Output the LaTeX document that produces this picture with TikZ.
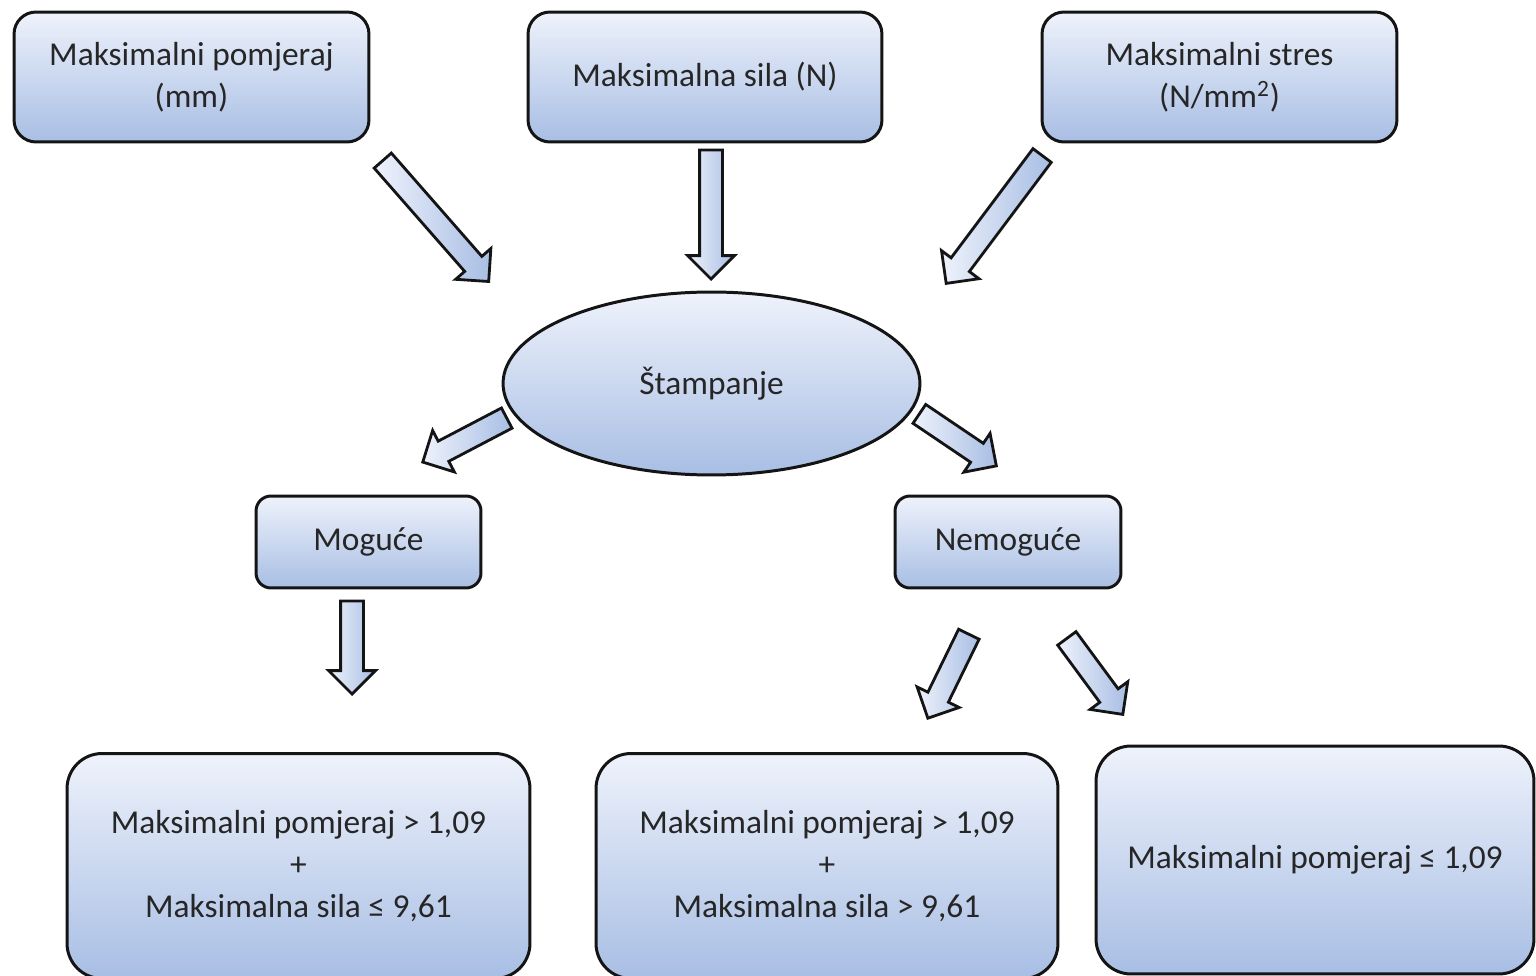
\documentclass[tikz,border=0pt]{standalone}
\usepackage{fontspec}
\setmainfont{Carlito}
\usetikzlibrary{shapes.geometric,shapes.arrows,calc}

\definecolor{fillLight}{RGB}{238,242,251}
\definecolor{fillDark}{RGB}{168,190,228}
\definecolor{lineDark}{RGB}{20,20,20}

\tikzset{
  box/.style={draw=lineDark, line width=1.7pt, rounded corners=0.44cm,
    top color=fillLight, bottom color=fillDark, align=center,
    font=\fontsize{19}{24}\selectfont, text=black!85},
  bigbox/.style={box, rounded corners=0.7cm},
  smallbox/.style={box, rounded corners=0.3cm},
  oval/.style={box, ellipse},
  barrow/.style={single arrow, draw=lineDark, line width=1.6pt,
    inner xsep=0pt, inner ysep=0.2cm, text height=0pt, text depth=0pt,
    minimum width=0.88cm, single arrow head extend=0.24cm,
    single arrow tip angle=90, left color=fillLight, right color=fillDark}
}

% block arrow from tail coordinate to tip coordinate
\newcommand{\blockarrow}[3]{%
  \path let \p1=($(#3)-(#2)$), \n1={atan2(\y1,\x1)}, \n2={veclen(\x1,\y1)} in
    node[barrow, rotate=\n1, minimum height=\n2, anchor=tip] (#1) at (#3) {};}

\begin{document}
\begin{tikzpicture}[x=0.02cm, y=-0.02cm]
    \useasboundingbox (0,0) rectangle (1536,976);

    % Nodes
    \node [box, minimum width=7.1cm, minimum height=2.6cm]   (pomjeraj) at (191.5,77)  {Maksimalni pomjeraj\\(mm)};
    \node [box, minimum width=7.08cm, minimum height=2.6cm]  (sila)     at (705,77)    {Maksimalna sila (N)};
    \node [box, minimum width=7.1cm, minimum height=2.6cm]   (stres)    at (1219.5,77) {Maksimalni stres\\(N/mm\textsuperscript{2})};
    \node [oval, minimum width=8.34cm, minimum height=3.66cm] (stamp)  at (711.5,383.5) {Štampanje};
    \node [smallbox, minimum width=4.5cm, minimum height=1.84cm] (moguce)   at (368.5,542) {Moguće};
    \node [smallbox, minimum width=4.52cm, minimum height=1.84cm] (nemoguce) at (1008,542)  {Nemoguće};
    \node [bigbox, minimum width=9.26cm, minimum height=4.5cm]  (res1) at (298.5,866) {Maksimalni pomjeraj > 1,09\\+\\Maksimalna sila ≤ 9,61};
    \node [bigbox, minimum width=9.24cm, minimum height=4.5cm]  (res2) at (827,866)   {Maksimalni pomjeraj > 1,09\\+\\Maksimalna sila > 9,61};
    \node [bigbox, minimum width=8.76cm, minimum height=4.56cm] (res3) at (1315,860)  {Maksimalni pomjeraj ≤ 1,09};

    % Arrow ends
    \coordinate (t1) at (384,162);  \coordinate (h1) at (490,283);
    \coordinate (t2) at (711,152);  \coordinate (h2) at (711,281);
    \coordinate (t3) at (1041,157); \coordinate (h3) at (945,285);
    \coordinate (t4) at (505,419);  \coordinate (h4) at (421,463);
    \coordinate (t5) at (921,415);  \coordinate (h5) at (998,467);
    \coordinate (t6) at (352,603);  \coordinate (h6) at (352,696);
    \coordinate (t7) at (968,636);  \coordinate (h7) at (927,720);
    \coordinate (t8) at (1068,640); \coordinate (h8) at (1124,716);

    % Block arrows
    \blockarrow{a1}{t1}{h1}
    \blockarrow{a2}{t2}{h2}
    \blockarrow{a3}{t3}{h3}
    \blockarrow{a4}{t4}{h4}
    \blockarrow{a5}{t5}{h5}
    \blockarrow{a6}{t6}{h6}
    \blockarrow{a7}{t7}{h7}
    \blockarrow{a8}{t8}{h8}
\end{tikzpicture}
\end{document}
